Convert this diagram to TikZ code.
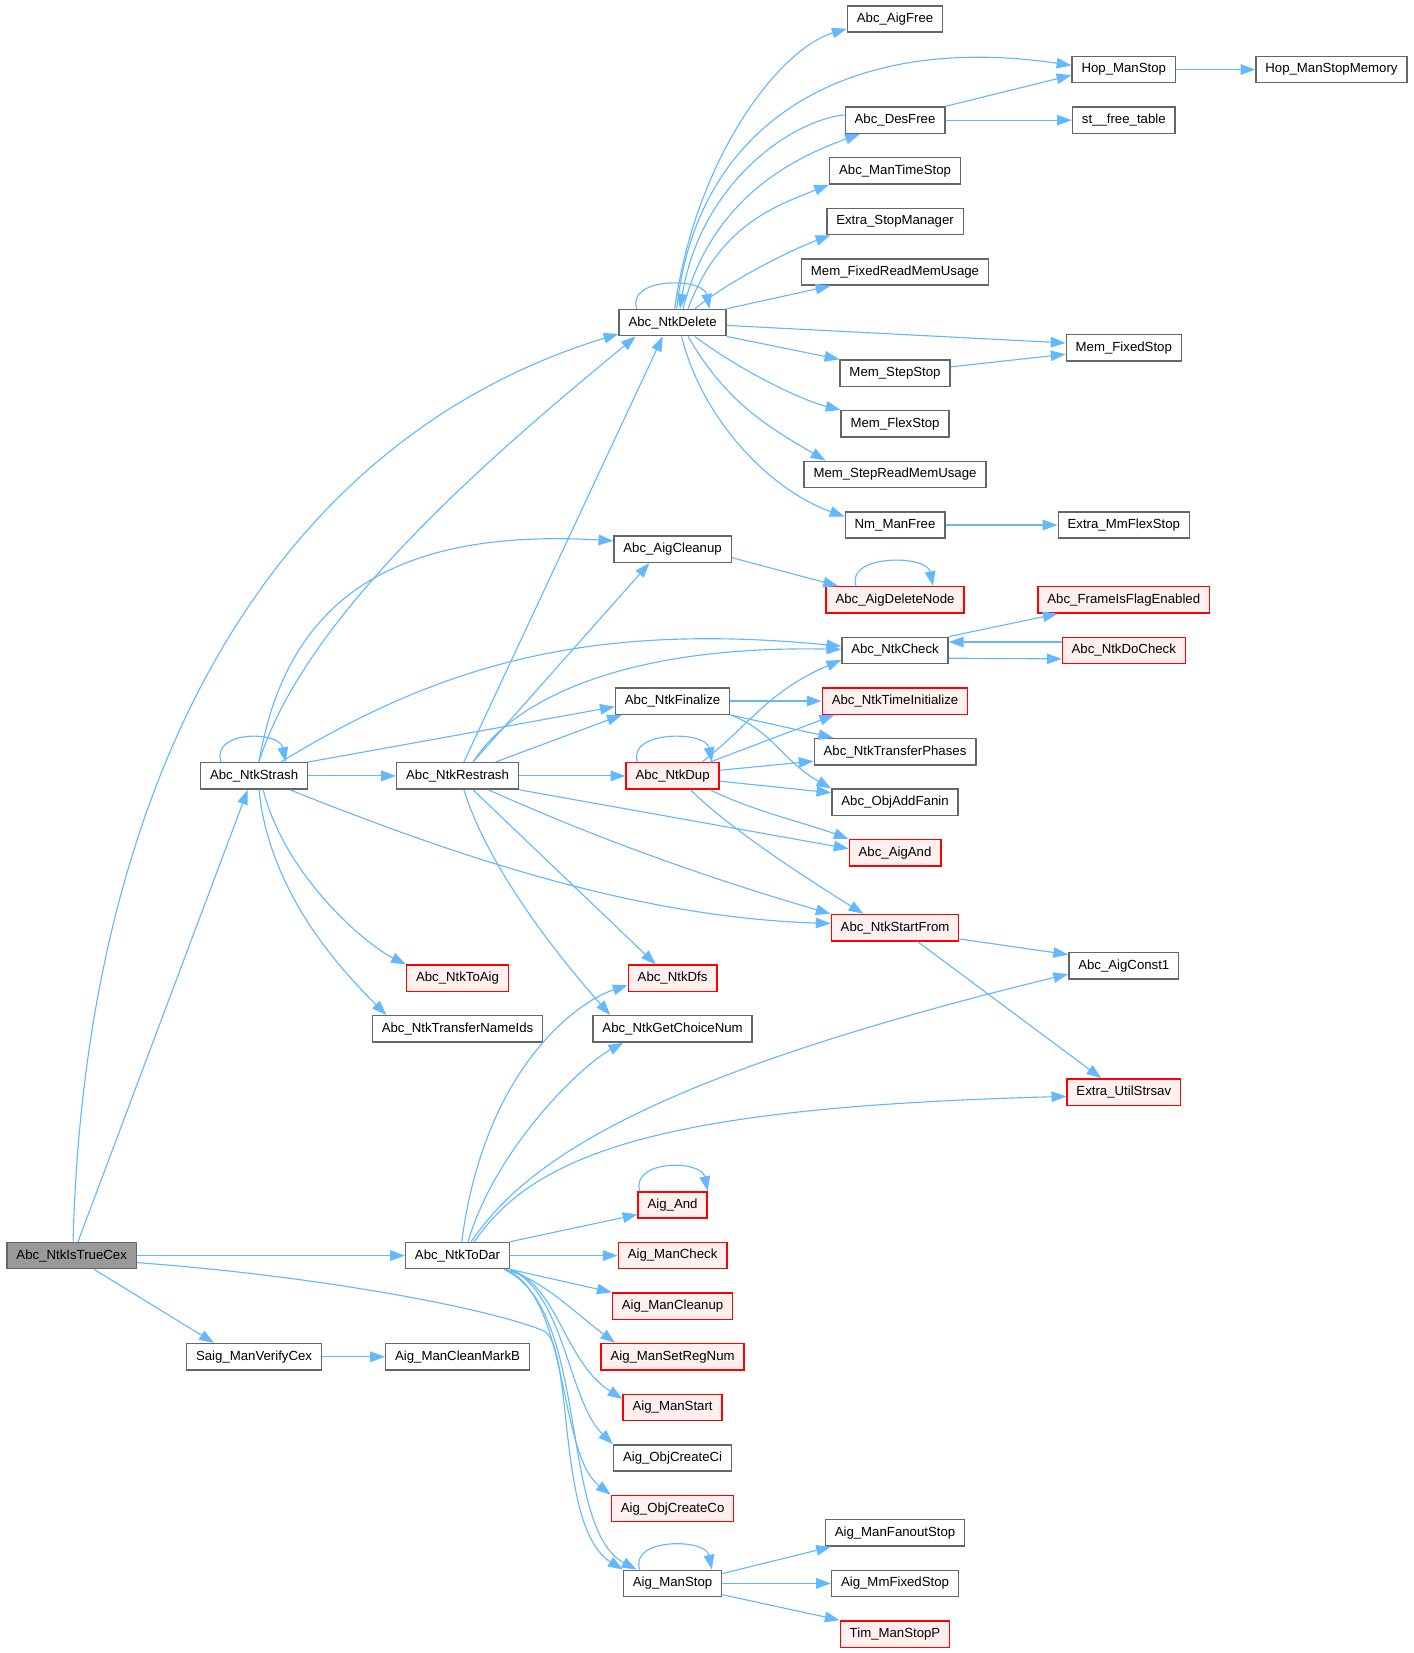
\documentclass[tikz,border=0pt]{standalone}
\usepackage{fontspec}
\setmainfont{Liberation Sans}
\usetikzlibrary{arrows.meta}
\definecolor{edgeblue}{HTML}{63B8FF}
\definecolor{boxgray}{HTML}{666666}
\definecolor{rootgray}{HTML}{999999}
\definecolor{redfill}{HTML}{FFF0F0}
\tikzset{
  fn/.style={draw=boxgray, line width=1pt, fill=white, minimum height=18.75pt,
    inner xsep=6.7pt, inner ysep=0pt, font=\fontsize{9.4}{11}\selectfont},
  fnred/.style={fn, draw=red, fill=redfill},
  fnroot/.style={fn, fill=rootgray},
  call/.style={draw=edgeblue, line width=0.8pt, -{Triangle[length=10.5pt,width=7.5pt]}}
}
\begin{document}
\begin{tikzpicture}[x=0.75pt,y=0.75pt]

   \useasboundingbox (0,0) rectangle (1341,-1568);

   \node[fn] (AigFree) at (849,-18) {Abc\_AigFree};
   \node[fn] (HopStop) at (1066,-66) {Hop\_ManStop};
   \node[fn] (HopStopMem) at (1263,-66) {Hop\_ManStopMemory};
   \node[fn] (DesFree) at (849,-114) {Abc\_DesFree};
   \node[fn] (StFree) at (1066,-114) {st\_\_free\_table};
   \node[fn] (ManTimeStop) at (849,-162) {Abc\_ManTimeStop};
   \node[fn] (StopManager) at (849,-210) {Extra\_StopManager};
   \node[fn] (FixedReadMem) at (849,-258) {Mem\_FixedReadMemUsage};
   \node[fn] (NtkDelete) at (638,-306) {Abc\_NtkDelete};
   \node[fn] (FixedStop) at (1066,-330) {Mem\_FixedStop};
   \node[fn] (StepStop) at (849,-354) {Mem\_StepStop};
   \node[fn] (FlexStop) at (849,-402) {Mem\_FlexStop};
   \node[fn] (StepReadMem) at (849,-450) {Mem\_StepReadMemUsage};
   \node[fn] (NmFree) at (849,-498) {Nm\_ManFree};
   \node[fn] (MmFlexStop) at (1066,-498) {Extra\_MmFlexStop};

   \node[fn] (AigCleanup) at (638,-521) {Abc\_AigCleanup};
   \node[fnred] (AigDeleteNode) at (849,-569) {Abc\_AigDeleteNode};
   \node[fnred] (FlagEnabled) at (1066,-569) {Abc\_FrameIsFlagEnabled};
   \node[fn] (NtkCheck) at (849,-617) {Abc\_NtkCheck};
   \node[fnred] (NtkDoCheck) at (1066,-617) {Abc\_NtkDoCheck};
   \node[fn] (NtkFinalize) at (638,-665) {Abc\_NtkFinalize};
   \node[fnred] (TimeInit) at (849,-665) {Abc\_NtkTimeInitialize};
   \node[fn] (TransferPhases) at (849,-713) {Abc\_NtkTransferPhases};
   \node[fn] (NtkStrash) at (241,-736) {Abc\_NtkStrash};
   \node[fn] (NtkRestrash) at (434,-736) {Abc\_NtkRestrash};
   \node[fnred] (NtkDup) at (638,-736) {Abc\_NtkDup};
   \node[fn] (ObjAddFanin) at (849,-761) {Abc\_ObjAddFanin};
   \node[fnred] (AbcAigAnd) at (849,-809) {Abc\_AigAnd};
   \node[fnred] (StartFrom) at (849,-880) {Abc\_NtkStartFrom};
   \node[fn] (AigConst1) at (1066,-916) {Abc\_AigConst1};
   \node[fnred] (NtkToAig) at (434,-928) {Abc\_NtkToAig};
   \node[fnred] (NtkDfs) at (638,-928) {Abc\_NtkDfs};
   \node[fn] (TransferNameIds) at (434,-976) {Abc\_NtkTransferNameIds};
   \node[fn] (GetChoiceNum) at (638,-976) {Abc\_NtkGetChoiceNum};
   \node[fnred] (UtilStrsav) at (1066,-1036) {Extra\_UtilStrsav};

   \node[fnred] (AigAnd) at (638,-1143) {Aig\_And};
   \node[fnroot] (IsTrueCex) at (68,-1191) {Abc\_NtkIsTrueCex};
   \node[fn] (NtkToDar) at (434,-1191) {Abc\_NtkToDar};
   \node[fnred] (ManCheck) at (638,-1191) {Aig\_ManCheck};
   \node[fnred] (ManCleanup) at (638,-1239) {Aig\_ManCleanup};
   \node[fn] (VerifyCex) at (241,-1287) {Saig\_ManVerifyCex};
   \node[fn] (CleanMarkB) at (434,-1287) {Aig\_ManCleanMarkB};
   \node[fnred] (SetRegNum) at (638,-1287) {Aig\_ManSetRegNum};
   \node[fnred] (ManStart) at (638,-1335) {Aig\_ManStart};
   \node[fn] (CreateCi) at (638,-1383) {Aig\_ObjCreateCi};
   \node[fnred] (CreateCo) at (638,-1431) {Aig\_ObjCreateCo};
   \node[fn] (FanoutStop) at (849,-1454) {Aig\_ManFanoutStop};
   \node[fn] (ManStop) at (638,-1502) {Aig\_ManStop};
   \node[fn] (MmFixedStop) at (849,-1502) {Aig\_MmFixedStop};
   \node[fnred] (TimStopP) at (849,-1550) {Tim\_ManStopP};

   % Abc_NtkIsTrueCex
   \draw[call] ([xshift=1pt]IsTrueCex.north) .. controls +(11,428.5) and +(-336,-103) .. ([yshift=-8pt]NtkDelete.west);
   \draw[call] ([xshift=4.5pt]IsTrueCex.north) -- ([xshift=-4.5pt]NtkStrash.south);
   \draw[call] (IsTrueCex) -- (NtkToDar);
   \draw[call] ([xshift=16pt]IsTrueCex.south) -- ([xshift=20pt]VerifyCex.north west);
   \draw[call] ([yshift=-5pt]IsTrueCex.east) .. controls +(169,-12.5) and +(-55,22) .. (515,-1262)
      .. controls +(30,-12) and +(-64,39.5) .. (ManStop.north west);

   % Abc_NtkStrash
   \draw[call] ([xshift=-23.5pt]NtkStrash.north) .. controls +(-10,30) and +(-6,30) .. ([xshift=22.5pt]NtkStrash.north);
   \draw[call] ([xshift=3.5pt]NtkStrash.north) .. controls +(44.4,143.5) and +(-123,-101.5) .. ([xshift=-26.25pt]NtkDelete.south);
   \draw[call] ([xshift=3.5pt]NtkStrash.north) .. controls +(24.4,143.5) and +(-222,13) .. ([yshift=6pt]AigCleanup.west);
   \draw[call] ([xshift=19pt]NtkStrash.north) .. controls +(153.3,93.5) and +(-237,23) .. ([yshift=3pt]NtkCheck.west);
   \draw[call] (NtkStrash.north east) -- ([yshift=-4pt]NtkFinalize.west);
   \draw[call] (NtkStrash) -- (NtkRestrash);
   \draw[call] ([xshift=25.5pt]NtkStrash.south) .. controls +(150,-60) and +(-188,6) .. ([yshift=3pt]StartFrom.west);
   \draw[call] ([xshift=6.5pt]NtkStrash.south) .. controls +(20,-80) and +(-40,20) .. (NtkToAig.north west);
   \draw[call] ([xshift=3.5pt]NtkStrash.south) .. controls +(10,-100) and +(-40,40) .. ([xshift=10.5pt]TransferNameIds.north west);

   % Abc_NtkRestrash
   \draw[call] ([xshift=4.5pt]NtkRestrash.north) -- ([xshift=-7pt]NtkDelete.south);
   \draw[call] ([xshift=11pt]NtkRestrash.north) -- ([xshift=-16.5pt]AigCleanup.south);
   \draw[call] ([xshift=11pt]NtkRestrash.north) .. controls +(41,63.5) and +(-197,4) .. ([yshift=0.75pt]NtkCheck.west);
   \draw[call] ([xshift=27pt]NtkRestrash.north) -- ([xshift=5pt]NtkFinalize.south west);
   \draw[call] (NtkRestrash) -- (NtkDup);
   \draw[call] (NtkRestrash.south east) -- ([yshift=3pt]AbcAigAnd.west);
   \draw[call] ([xshift=22pt]NtkRestrash.south) .. controls +(100,-45) and +(-120,35) .. (StartFrom.north west);
   \draw[call] ([xshift=11pt]NtkRestrash.south) -- ([xshift=-12pt]NtkDfs.north);
   \draw[call] ([xshift=4.5pt]NtkRestrash.south) .. controls +(25,-80) and +(-40,45) .. ([xshift=12.75pt]GetChoiceNum.north west);

   % Abc_NtkDup
   \draw[call] ([xshift=-25pt]NtkDup.north) .. controls +(-10,30) and +(-6,30) .. ([xshift=28pt]NtkDup.north);
   \draw[call] ([xshift=21pt]NtkDup.north) .. controls +(45,35) and +(-70,-30) .. ([yshift=-6.75pt]NtkCheck.west);
   \draw[call] ([xshift=26.7pt]NtkDup.north) -- ([xshift=9pt]TimeInit.south west);
   \draw[call] ([yshift=4pt]NtkDup.east) -- ([yshift=-6.75pt]TransferPhases.west);
   \draw[call] ([yshift=-3.75pt]NtkDup.east) -- ([yshift=6.75pt]ObjAddFanin.west);
   \draw[call] ([xshift=26.7pt]NtkDup.south) .. controls +(40,-20) and +(-40,15) .. (AbcAigAnd.north west);
   \draw[call] ([xshift=12.75pt]NtkDup.south) .. controls +(40,-40) and +(-40,25) .. ([xshift=-22.5pt]StartFrom.north);

   % Abc_NtkFinalize
   \draw[call] (NtkFinalize) -- (TimeInit);
   \draw[call] (NtkFinalize.south east) -- ([xshift=14pt]TransferPhases.north west);
   \draw[call] (NtkFinalize.south east) .. controls +(40,-15) and +(-45,25) .. (ObjAddFanin.north west);

   % Abc_NtkDelete
   \draw[call] ([xshift=-25.5pt]NtkDelete.north) .. controls +(-10,30) and +(-6,30) .. ([xshift=26.25pt]NtkDelete.north);
   \draw[call] ([xshift=1.5pt]NtkDelete.north) .. controls +(20,143.5) and +(-64,-19) .. ([yshift=-7pt]AigFree.west);
   \draw[call] ([xshift=3pt]NtkDelete.north) .. controls +(18,173.5) and +(-217,32) .. ([yshift=3pt]HopStop.west);
   \draw[call] ([yshift=3.75pt]DesFree.west) .. controls +(-50,-5) and +(20,120) .. ([xshift=5.25pt]NtkDelete.north);
   \draw[call] ([xshift=7.5pt]NtkDelete.north) .. controls +(25,100) and +(-70,-25) .. ([xshift=-25pt]DesFree.south);
   \draw[call] ([xshift=11pt]NtkDelete.north) .. controls +(30,80) and +(-50,-20) .. (ManTimeStop.south west);
   \draw[call] ([xshift=16pt]NtkDelete.north) .. controls +(30,25) and +(-40,-15) .. ([xshift=3pt]StopManager.south west);
   \draw[call] (NtkDelete.north east) -- ([xshift=21pt]FixedReadMem.south west);
   \draw[call] ([yshift=-2pt]NtkDelete.east) -- ([yshift=3.5pt]FixedStop.west);
   \draw[call] (NtkDelete.south east) -- (StepStop.north west);
   \draw[call] ([xshift=15.75pt]NtkDelete.south) .. controls +(40,-30) and +(-40,10) .. (FlexStop.north west);
   \draw[call] ([xshift=11pt]NtkDelete.south) .. controls +(35,-60) and +(-60,35) .. ([xshift=15.75pt]StepReadMem.north west);
   \draw[call] ([xshift=6.4pt]NtkDelete.south) .. controls +(20,-80) and +(-70,25) .. ([yshift=6pt]NmFree.west);

   \draw[call] (DesFree.north east) -- ([yshift=-4pt]HopStop.west);
   \draw[call] (DesFree) -- (StFree);
   \draw[call] (HopStop) -- (HopStopMem);
   \draw[call] ([yshift=4.5pt]StepStop.east) -- ([yshift=-4.5pt]FixedStop.west);
   \draw[call] (NmFree) -- (MmFlexStop);

   \draw[call] ([yshift=-6pt]AigCleanup.east) -- ([xshift=9pt]AigDeleteNode.north west);
   \draw[call] ([xshift=-27.75pt]AigDeleteNode.north) .. controls +(-10,30) and +(-6,30) .. ([xshift=27pt]AigDeleteNode.north);

   \draw[call] (NtkCheck.north east) -- ([xshift=14.5pt]FlagEnabled.south west);
   \draw[call] ([yshift=-5.5pt]NtkCheck.east) -- ([yshift=-6pt]NtkDoCheck.west);
   \draw[call] ([yshift=6pt]NtkDoCheck.west) -- ([yshift=6pt]NtkCheck.east);

   \draw[call] ([yshift=-8pt]StartFrom.east) -- ([yshift=-2pt]AigConst1.north west);
   \draw[call] ([xshift=16pt]StartFrom.south) -- ([xshift=-16pt]UtilStrsav.north);

   % Abc_NtkToDar
   \draw[call] ([xshift=3pt]NtkToDar.north) .. controls +(22,168.5) and +(-44,-14) .. ([yshift=-5pt]NtkDfs.west);
   \draw[call] ([xshift=7.5pt]NtkToDar.north) .. controls +(26,88.5) and +(-40,-21.5) .. ([xshift=22pt]GetChoiceNum.south west);
   \draw[call] ([xshift=9.75pt]NtkToDar.north) .. controls +(53,78.5) and +(-392,-95.5) .. ([yshift=-6pt]AigConst1.west);
   \draw[call] ([xshift=12pt]NtkToDar.north) .. controls +(60,88.5) and +(-370,-10) .. ([yshift=-3pt]UtilStrsav.west);
   \draw[call] (NtkToDar.north east) -- ([yshift=-6.75pt]AigAnd.west);
   \draw[call] (NtkToDar) -- (ManCheck);
   \draw[call] (NtkToDar.south east) -- (ManCleanup.north west);
   \draw[call] ([xshift=-3pt]NtkToDar.south east) .. controls +(35,-10) and +(-40,30) .. ([xshift=10.5pt]SetRegNum.north west);
   \draw[call] (NtkToDar.south east) .. controls +(45,-15) and +(-55,35) .. ([yshift=6pt]ManStart.west);
   \draw[call] (NtkToDar.south east) .. controls +(51,-21.5) and +(-42,40.5) .. (CreateCi.north west);
   \draw[call] ([xshift=-3pt]NtkToDar.south east) .. controls +(60,-26.5) and +(-50,38.5) .. (CreateCo.north west);
   \draw[call] ([xshift=-4.5pt]NtkToDar.south east) .. controls +(82,-36.5) and +(-74,39.5) .. ([xshift=9.75pt]ManStop.north west);

   \draw[call] ([xshift=1.5pt]AigAnd.north west) .. controls +(-8,30) and +(-6,30) .. (AigAnd.north east);
   \draw[call] ([xshift=12pt]ManStop.north west) .. controls +(-10,30) and +(-6,30) .. ([xshift=-7.5pt]ManStop.north east);
   \draw[call] ([yshift=7pt]ManStop.east) -- ([xshift=4.5pt]FanoutStop.south west);
   \draw[call] (ManStop) -- (MmFixedStop);
   \draw[call] ([yshift=-8pt]ManStop.east) -- (TimStopP.north west);

   \draw[call] (VerifyCex) -- (CleanMarkB);

\end{tikzpicture}
\end{document}
